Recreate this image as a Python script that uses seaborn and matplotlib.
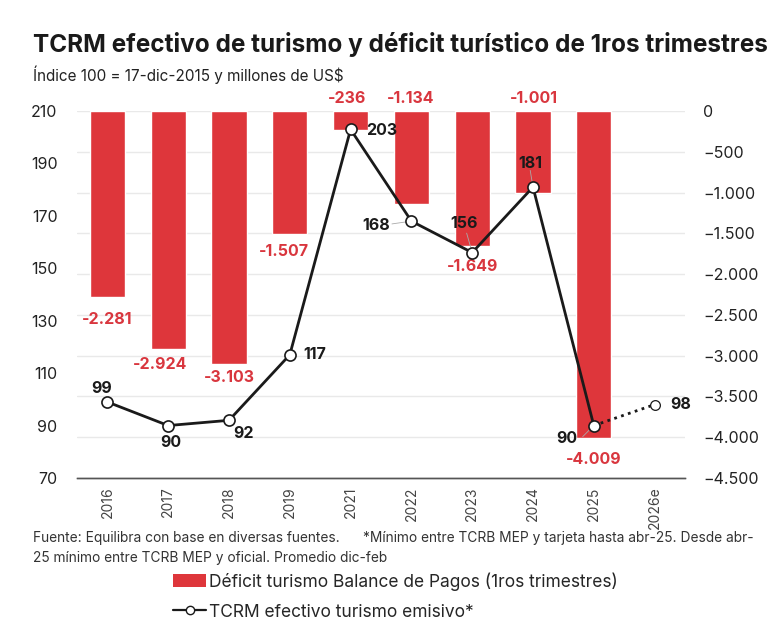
import matplotlib.pyplot as plt
import seaborn as sns
import pandas as pd
import numpy as np
from matplotlib.patches import Patch
from matplotlib.lines import Line2D

# Data
years = ["2016", "2017", "2018", "2019", "2021", "2022", "2023", "2024", "2025", "2026e"]
deficit = [-2281, -2924, -3103, -1507, -236, -1134, -1649, -1001, -4009, np.nan]
deficit_labels = ["-2.281", "-2.924", "-3.103", "-1.507", "-236", "-1.134", "-1.649", "-1.001", "-4.009", ""]
tcrm = [99, 90, 92, 117, 203, 168, 156, 181, 90, 98]

RED = "#de363b"
RED_TXT = "#d9363e"
DARK = "#1a1a1a"

sns.set_theme(style="white")
plt.rcParams["font.family"] = ["Inter", "DejaVu Sans"]

df = pd.DataFrame({"year": years, "deficit": deficit, "tcrm": tcrm})
df["pos"] = np.arange(len(df))

fig = plt.figure(figsize=(7.8, 6.42), dpi=100)
ax = fig.add_axes([0.0987, 0.2555, 0.7795, 0.5715])

# bars on the primary axis (scale shown on the right)
sns.barplot(data=df, x="year", y="deficit", order=years, color=RED, width=0.58,
            saturation=1, ax=ax, zorder=2)
ax.set_ylim(-4500, 0)
ax.set_xlim(-0.5, len(years) - 0.5)
ax.set_yticks(np.arange(-4500, 1, 500))
ax.set_yticklabels([f"{v:,}".replace(",", ".").replace("-", "\u2212") if v else "0"
                    for v in np.arange(-4500, 1, 500)])
ax.yaxis.grid(True, color="#e9e9e9", linewidth=1, zorder=0)
ax.set_axisbelow(True)
ax.set_xlabel("")
ax.set_ylabel("")

# line on the twin axis (scale shown on the left)
ax2 = ax.twinx()
ax.yaxis.tick_right()
ax2.yaxis.tick_left()
solid = df.iloc[:9]
sns.lineplot(data=solid, x="pos", y="tcrm", ax=ax2, color=DARK, linewidth=2,
             marker="o", markersize=8, markerfacecolor="white", markeredgecolor=DARK,
             markeredgewidth=1.2, zorder=5)
tail = df.iloc[8:]
ax2.plot(tail["pos"], tail["tcrm"], color=DARK, linewidth=2, linestyle=(0, (1, 1.6)), zorder=4)
ax2.plot(tail["pos"].iloc[-1:], tail["tcrm"].iloc[-1:], "o", color=DARK, markersize=7,
         markerfacecolor="white", markeredgewidth=0.9, zorder=6)
ax2.set_ylim(70, 210)
ax2.set_yticks(np.arange(70, 211, 20))
ax2.set_xlim(-0.5, len(years) - 0.5)
ax2.set_xlabel("")
ax2.set_ylabel("")

for a in (ax, ax2):
    for s in ["top", "left", "right"]:
        a.spines[s].set_visible(False)
    a.spines["bottom"].set_color("#555555")
    a.spines["bottom"].set_linewidth(1)
    a.tick_params(axis="y", length=0, labelsize=11.5, colors="#222222")
ax.tick_params(axis="y", pad=13)
ax2.tick_params(axis="y", pad=14)
ax.set_xticks(range(len(years)))
ax.set_xticklabels(years, rotation=90, fontsize=10, color="#444444")
ax.tick_params(axis="x", length=0, pad=6)

# bar value labels: (dx, dy in data units of bar axis); dy 0 means above the bar
bar_off = {0: (0, -270), 1: (-0.13, -190), 2: (0, -160), 3: (-0.1, -220),
           4: (-0.05, 0), 5: (-0.02, 0), 6: (0, -260), 7: (0.02, 0), 8: (0, -260)}
for i, (v, lab) in enumerate(zip(deficit, deficit_labels)):
    if not lab:
        continue
    dx, dy = bar_off[i]
    y = 160 if dy == 0 else v + dy
    ax.text(i + dx, y, lab, ha="center", va="center", color=RED_TXT,
            fontsize=11.5, fontweight="bold", zorder=7)

# line value labels: offsets in points
line_off = [(-4, 10, "center"), (2, -12, "center"), (3, -9.5, "left"), (10, 0, "left"),
            (11, -1, "left"), (-15, -3, "right"), (-6, 21, "center"), (-2, 17, "center"),
            (-11.5, -9, "right"), (11, 0, "left")]
for i, (v, (dx, dy, ha)) in enumerate(zip(tcrm, line_off)):
    ax2.annotate(str(v), (i, v), xytext=(dx, dy), textcoords="offset points",
                 ha=ha, va="center", fontsize=11.5, fontweight="bold", color=DARK, zorder=8)

# thin leader lines for a few labels
for i, (dx1, dy1) in {5: (-14, -2), 6: (-4, 14), 7: (-2, 12), 8: (-8, -8)}.items():
    ax2.annotate("", (i, tcrm[i]), xytext=(dx1, dy1), textcoords="offset points",
                 arrowprops=dict(arrowstyle="-", color="#aaaaaa", lw=0.6,
                                 shrinkA=0, shrinkB=4), zorder=3)

# titles
fig.text(0.042, 0.93, "TCRM efectivo de turismo y déficit turístico de 1ros trimestres",
         fontsize=17.5, fontweight="bold", color="#1a1a1a", va="center")
fig.text(0.042, 0.883, "Índice 100 = 17-dic-2015 y millones de US$", fontsize=11,
         color="#222222", va="center")

# footnote
fig.text(0.042, 0.162, "Fuente: Equilibra con base en diversas fuentes.      "
         "*Mínimo entre TCRB MEP y tarjeta hasta abr-25. Desde abr-",
         fontsize=9.9, color="#333333", va="center")
fig.text(0.042, 0.131, "25 mínimo entre TCRB MEP y oficial. Promedio dic-feb",
         fontsize=9.9, color="#333333", va="center")

# legend
handles = [Patch(facecolor=RED, edgecolor="none"),
           Line2D([0], [0], color=DARK, linewidth=1.6, marker="o", markersize=6,
                  markerfacecolor="white", markeredgecolor=DARK, markeredgewidth=1)]
labels = ["Déficit turismo Balance de Pagos (1ros trimestres)",
          "TCRM efectivo turismo emisivo*"]
fig.legend(handles, labels, loc="upper left", bbox_to_anchor=(0.222, 0.109),
           frameon=False, fontsize=12.5, handlelength=1.9, handleheight=0.75,
           handletextpad=0.15, labelspacing=0.75, borderpad=0, borderaxespad=0)

fig.savefig("out.png", dpi=100, facecolor="white")
